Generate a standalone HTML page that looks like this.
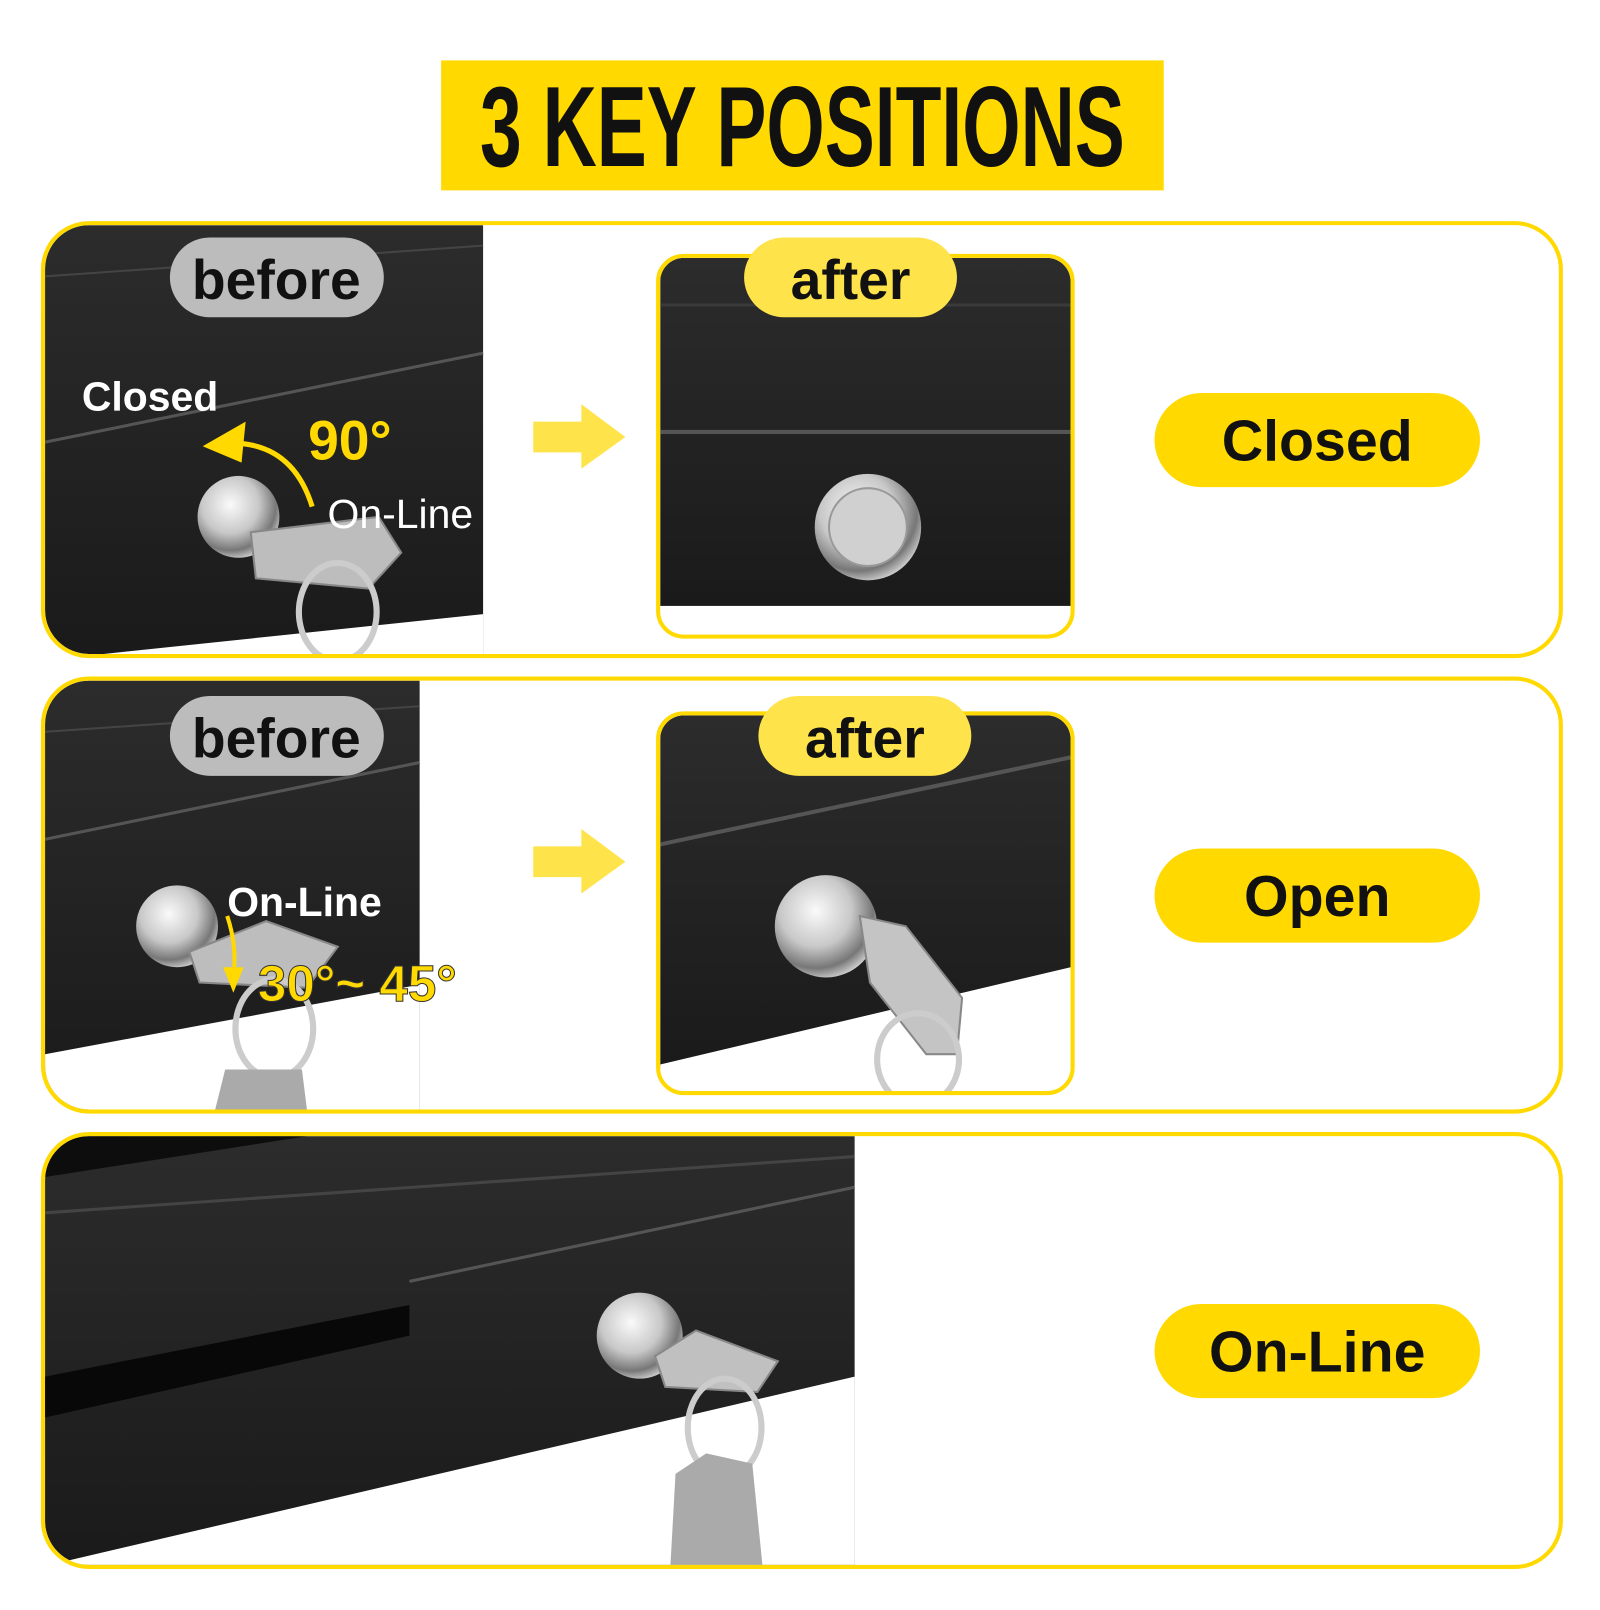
<!DOCTYPE html>
<html><head><meta charset="utf-8"><style>
html,body{margin:0;padding:0;background:#fff;width:1600px;height:1600px;overflow:hidden}
#w{position:absolute;left:0;top:0;width:1568px;height:1568px;transform:scale(1.0235);transform-origin:0 0}
svg text{font-family:"Liberation Sans",sans-serif;font-weight:bold}
</style></head><body><div id="w">
<svg width="1568" height="1568" viewBox="0 0 1568 1568" xmlns="http://www.w3.org/2000/svg">
<defs>
<linearGradient id="dk" x1="0" y1="0" x2="0" y2="1"><stop offset="0" stop-color="#2c2c2c"/><stop offset="1" stop-color="#1a1a1a"/></linearGradient>
<radialGradient id="sv" cx="0.4" cy="0.35" r="0.7"><stop offset="0" stop-color="#fafafa"/><stop offset="0.5" stop-color="#c8c8c8"/><stop offset="0.8" stop-color="#777"/><stop offset="1" stop-color="#ddd"/></radialGradient>
<clipPath id="c1"><rect x="44" y="220" width="1479" height="419" rx="43"/></clipPath>
<clipPath id="c2"><rect x="44" y="665" width="1479" height="419" rx="43"/></clipPath>
<clipPath id="c3"><rect x="44" y="1110" width="1479" height="419" rx="43"/></clipPath>
<clipPath id="a1"><rect x="645" y="252" width="401" height="368" rx="23"/></clipPath>
<clipPath id="a2"><rect x="645" y="699" width="401" height="367" rx="23"/></clipPath>
</defs>
<rect x="431" y="59" width="706" height="127" fill="#FFD900"/>
<text x="784" y="162" text-anchor="middle" font-size="112" textLength="630" lengthAdjust="spacingAndGlyphs" fill="#111">3 KEY POSITIONS</text>

<!-- row1 -->
<g clip-path="url(#c1)">
<rect x="44" y="220" width="428" height="420" fill="url(#dk)"/>
<polygon points="44,645 472,600 472,645" fill="#fff"/>
<line x1="44" y1="270" x2="472" y2="240" stroke="#444" stroke-width="2"/>
<line x1="44" y1="432" x2="472" y2="345" stroke="#555" stroke-width="3"/>
<circle cx="233" cy="505" r="40" fill="url(#sv)"/>
<polygon points="245,520 370,505 392,540 360,575 250,565" fill="#bdbdbd" stroke="#888" stroke-width="2"/>
<ellipse cx="330" cy="598" rx="38" ry="48" fill="none" stroke="#ccc" stroke-width="6"/>
</g>
<rect x="42" y="218" width="1483" height="423" rx="45" fill="none" stroke="#FFD900" stroke-width="4"/>
<rect x="166" y="232" width="209" height="78" rx="39" fill="#bcbcbc"/>
<text x="270" y="292" text-anchor="middle" font-size="54" fill="#111">before</text>
<text x="80" y="401" font-size="40" fill="#fff">Closed</text>
<text x="301" y="449" font-size="54" fill="#FFD900">90°</text>
<path d="M305,495 Q285,430 220,433" fill="none" stroke="#FFD900" stroke-width="5"/>
<polygon points="198,436 240,412 236,452" fill="#FFD900"/>
<text x="320" y="516" font-size="40" fill="#fff" style="font-weight:normal">On-Line</text>
<polygon points="521,412 568,412 568,395 611,427 568,458 568,442 521,442" fill="#FFE34A"/>
<g clip-path="url(#a1)">
<rect x="645" y="252" width="401" height="340" fill="url(#dk)"/>
<line x1="645" y1="298" x2="1046" y2="298" stroke="#3a3a3a" stroke-width="3"/>
<line x1="645" y1="422" x2="1046" y2="422" stroke="#555" stroke-width="4"/>
<circle cx="848" cy="515" r="52" fill="url(#sv)"/>
<circle cx="848" cy="515" r="38" fill="#d0d0d0" stroke="#999" stroke-width="2"/>
</g>
<rect x="643" y="250" width="405" height="372" rx="25" fill="none" stroke="#FFD900" stroke-width="4"/>
<rect x="727" y="232" width="208" height="78" rx="39" fill="#FFE34A"/>
<text x="831" y="292" text-anchor="middle" font-size="54" fill="#111">after</text>
<rect x="1128" y="384" width="318" height="92" rx="46" fill="#FFD900"/>
<text x="1287" y="450" text-anchor="middle" font-size="56" fill="#111">Closed</text>

<!-- row2 -->
<g clip-path="url(#c2)">
<rect x="44" y="665" width="366" height="420" fill="url(#dk)"/>
<polygon points="44,1030 410,962 410,1085 44,1085" fill="#fff"/>
<line x1="44" y1="715" x2="410" y2="690" stroke="#444" stroke-width="2"/>
<line x1="44" y1="820" x2="410" y2="745" stroke="#555" stroke-width="3"/>
<circle cx="173" cy="905" r="40" fill="url(#sv)"/>
<polygon points="185,930 260,900 330,925 300,965 195,960" fill="#bdbdbd" stroke="#888" stroke-width="2"/>
<ellipse cx="268" cy="1005" rx="38" ry="48" fill="none" stroke="#ccc" stroke-width="6"/>
<polygon points="210,1085 220,1045 295,1045 300,1085" fill="#aaa"/>
</g>
<rect x="42" y="663" width="1483" height="423" rx="45" fill="none" stroke="#FFD900" stroke-width="4"/>
<rect x="166" y="680" width="209" height="78" rx="39" fill="#bcbcbc"/>
<text x="270" y="740" text-anchor="middle" font-size="54" fill="#111">before</text>
<text x="222" y="895" font-size="40" fill="#fff">On-Line</text>
<path d="M222,895 Q232,925 228,955" fill="none" stroke="#FFD900" stroke-width="4"/>
<polygon points="218,945 238,945 228,970" fill="#FFD900"/>
<text x="252" y="978" font-size="50" fill="#FFD900" stroke="#333" stroke-width="1">30°~ 45°</text>
<polygon points="521,827 568,827 568,810 611,842 568,873 568,857 521,857" fill="#FFE34A"/>
<g clip-path="url(#a2)">
<rect x="645" y="699" width="401" height="345" fill="url(#dk)"/>
<polygon points="645,1040 1046,945 1046,1066 645,1066" fill="#fff"/>
<line x1="645" y1="825" x2="1046" y2="740" stroke="#555" stroke-width="4"/>
<circle cx="807" cy="905" r="50" fill="url(#sv)"/>
<polygon points="840,895 885,905 940,975 935,1030 905,1030 850,960" fill="#c4c4c4" stroke="#888" stroke-width="2"/>
<ellipse cx="897" cy="1035" rx="40" ry="45" fill="none" stroke="#ccc" stroke-width="6"/>
</g>
<rect x="643" y="697" width="405" height="371" rx="25" fill="none" stroke="#FFD900" stroke-width="4"/>
<rect x="741" y="680" width="208" height="78" rx="39" fill="#FFE34A"/>
<text x="845" y="740" text-anchor="middle" font-size="54" fill="#111">after</text>
<rect x="1128" y="829" width="318" height="92" rx="46" fill="#FFD900"/>
<text x="1287" y="895" text-anchor="middle" font-size="56" fill="#111">Open</text>

<!-- row3 -->
<g clip-path="url(#c3)">
<rect x="44" y="1110" width="791" height="420" fill="url(#dk)"/>
<polygon points="44,1110 300,1110 44,1150" fill="#0d0d0d"/>
<line x1="44" y1="1185" x2="835" y2="1130" stroke="#444" stroke-width="3"/>
<line x1="400" y1="1252" x2="835" y2="1160" stroke="#555" stroke-width="3"/>
<polygon points="44,1345 400,1275 400,1305 44,1385" fill="#080808"/>
<polygon points="44,1530 835,1345 835,1530" fill="#fff"/>
<circle cx="625" cy="1305" r="42" fill="url(#sv)"/>
<polygon points="640,1325 680,1300 760,1330 740,1360 650,1355" fill="#c0c0c0" stroke="#888" stroke-width="2"/>
<ellipse cx="708" cy="1395" rx="36" ry="48" fill="none" stroke="#ccc" stroke-width="6"/>
<polygon points="660,1440 690,1420 735,1430 745,1530 655,1530" fill="#aaa"/>
</g>
<rect x="42" y="1108" width="1483" height="423" rx="45" fill="none" stroke="#FFD900" stroke-width="4"/>
<rect x="1128" y="1274" width="318" height="92" rx="46" fill="#FFD900"/>
<text x="1287" y="1340" text-anchor="middle" font-size="56" fill="#111">On-Line</text>
</svg>
</div></body></html>
